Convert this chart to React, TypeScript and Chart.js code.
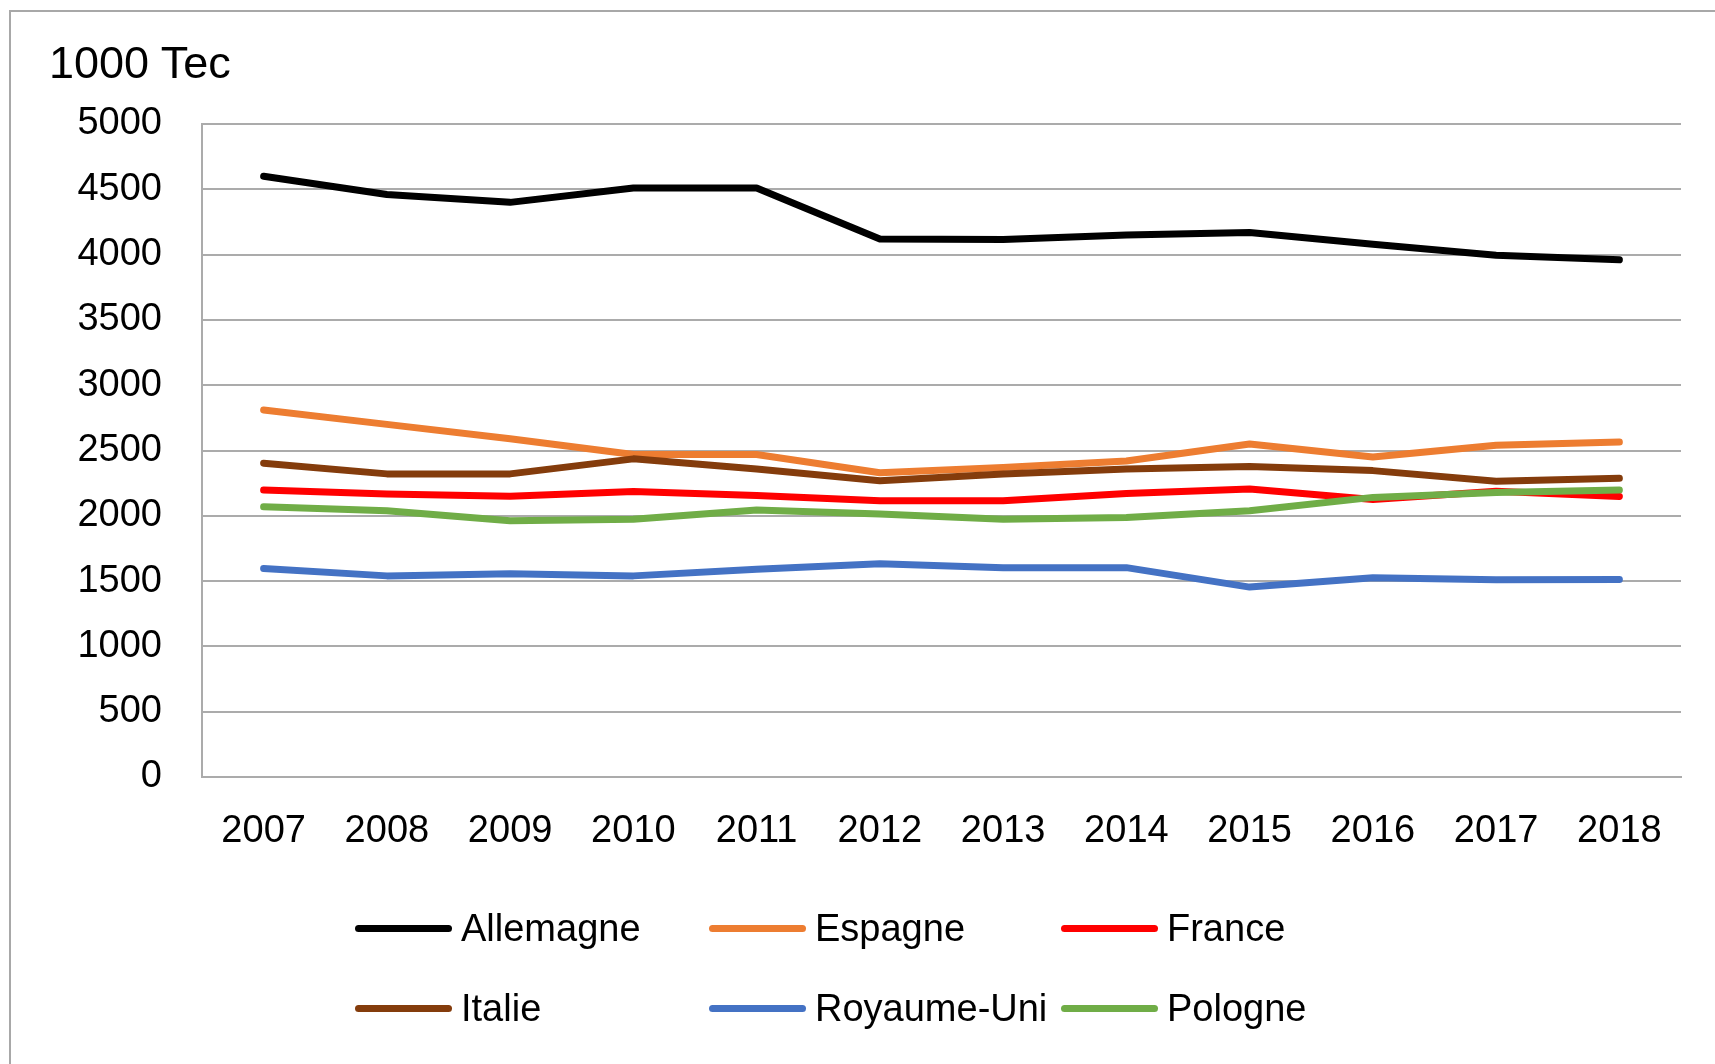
import React, { useEffect, useRef } from "react";
import { Chart, registerables } from "chart.js";

Chart.register(...registerables);

const years = ["2007", "2008", "2009", "2010", "2011", "2012", "2013", "2014", "2015", "2016", "2017", "2018"];

const allemagne = [4600, 4460, 4400, 4510, 4510, 4120, 4115, 4150, 4170, 4080, 3995, 3960];
const espagne = [2810, 2700, 2590, 2470, 2470, 2330, 2370, 2420, 2550, 2450, 2540, 2565];
const france = [2197, 2167, 2150, 2187, 2155, 2115, 2115, 2170, 2205, 2125, 2188, 2148];
const italie = [2403, 2321, 2321, 2436, 2359, 2269, 2320, 2359, 2377, 2346, 2264, 2287];
const royaumeUni = [1597, 1540, 1556, 1540, 1590, 1633, 1603, 1603, 1454, 1526, 1510, 1513];
const pologne = [2069, 2038, 1962, 1974, 2045, 2013, 1974, 1987, 2038, 2141, 2179, 2197];

const seriesNames = ["Allemagne", "Espagne", "France", "Italie", "Royaume-Uni", "Pologne"];
const seriesColors = ["#000000", "#ED7D31", "#FF0000", "#843C0C", "#4472C4", "#70AD47"];
const seriesValues = [allemagne, espagne, france, italie, royaumeUni, pologne];

const yTicksMax = 5000;
const yTickStep = 500;
const unitLabel = "1000 Tec";

const FONT = "'Liberation Sans', Arial, sans-serif";

export default function App() {
  const canvasRef = useRef<HTMLCanvasElement | null>(null);

  useEffect(() => {
    const canvas = canvasRef.current;
    if (!canvas) return;
    const chart = new Chart(canvas, {
      type: "line",
      data: {
        labels: years,
        datasets: seriesNames.map((name, i) => ({
          label: name,
          data: seriesValues[i],
          borderColor: seriesColors[i],
          backgroundColor: seriesColors[i],
          borderWidth: 7,
          pointRadius: 0,
          pointHoverRadius: 0,
          tension: 0,
          borderCapStyle: "round" as const,
          borderJoinStyle: "round" as const,
          fill: false,
          order: seriesNames.length - i,
        })),
      },
      options: {
        responsive: false,
        animation: false,
        events: [],
        layout: { padding: { left: 0, top: 124, right: 34, bottom: 187 } },
        plugins: {
          legend: { display: false },
          title: { display: false },
          tooltip: { enabled: false },
        },
        scales: {
          x: {
            type: "category",
            offset: true,
            grid: { display: false, drawTicks: false },
            border: { display: true, color: "#ababab", width: 2 },
            ticks: {
              color: "#000",
              font: { family: FONT, size: 38 },
              padding: 32,
              maxRotation: 0,
              autoSkip: false,
            },
            afterFit: (scale: any) => {
              scale.height = 100;
            },
          },
          y: {
            min: 0,
            max: yTicksMax,
            grid: { color: "#ababab", lineWidth: 2, drawTicks: false },
            border: { display: true, color: "#ababab", width: 2 },
            ticks: {
              stepSize: yTickStep,
              color: "#000",
              font: { family: FONT, size: 38 },
              padding: 40,
              callback: (value: any) => String(value),
            },
            afterFit: (scale: any) => {
              scale.width = 202;
            },
          },
        },
      },
    });
    return () => chart.destroy();
  }, []);

  const legendCols = [355, 709, 1061];
  const legendRows = [928, 1008];

  return (
    <div style={{ position: "fixed", left: 0, top: 0, width: 1715, height: 1064, background: "#fff", overflow: "hidden" }}>
      <div
        style={{
          position: "absolute",
          left: 9,
          top: 10,
          width: 2000,
          height: 2000,
          border: "2px solid #a8a8a8",
        }}
      />
      <canvas ref={canvasRef} width={1715} height={1064} style={{ position: "absolute", left: 0, top: 0 }} />
      <div
        style={{
          position: "absolute",
          left: 49,
          top: 40,
          font: `45px ${FONT}`,
          lineHeight: "45px",
          color: "#000",
          whiteSpace: "nowrap",
        }}
      >
        {unitLabel}
      </div>
      {seriesNames.map((name, i) => {
        const col = legendCols[i % 3];
        const row = legendRows[Math.floor(i / 3)];
        return (
          <React.Fragment key={name}>
            <div
              style={{
                position: "absolute",
                left: col,
                top: row - 3.5,
                width: 97,
                height: 7,
                borderRadius: 3.5,
                background: seriesColors[i],
              }}
            />
            <div
              style={{
                position: "absolute",
                left: col + 106,
                top: row - 19,
                font: `38px ${FONT}`,
                lineHeight: "38px",
                color: "#000",
                whiteSpace: "nowrap",
              }}
            >
              {name}
            </div>
          </React.Fragment>
        );
      })}
    </div>
  );
}
